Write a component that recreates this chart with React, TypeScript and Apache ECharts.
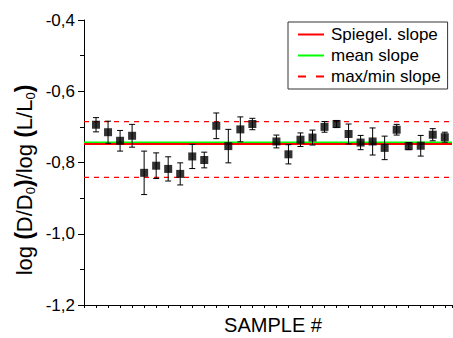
import React, { useEffect, useRef } from "react";
import * as echarts from "echarts";

// Sample numbers (x positions on the axis) and measured values with errors
const sampleX = [1, 2, 3, 4, 5, 6, 7, 8, 9, 10, 11, 12, 13, 14, 16, 17, 18, 19, 20, 21, 22, 23, 24, 25, 26, 27, 28, 29, 30];
const sampleY = [
  -0.694, -0.715, -0.739, -0.725, -0.829, -0.809, -0.818, -0.832, -0.783, -0.793, -0.697, -0.754, -0.707, -0.692,
  -0.741, -0.777, -0.736, -0.730, -0.700, -0.692, -0.720, -0.744, -0.741, -0.759, -0.708, -0.754, -0.753, -0.722, -0.729,
];
const sampleErr = [
  0.020, 0.031, 0.029, 0.032, 0.061, 0.036, 0.034, 0.031, 0.034, 0.022, 0.036, 0.047, 0.035, 0.016,
  0.018, 0.027, 0.019, 0.021, 0.015, 0.010, 0.028, 0.020, 0.038, 0.033, 0.015, 0.010, 0.029, 0.017, 0.014,
];

// Reference slopes
const spiegelSlope = -0.748;
const meanSlope = -0.744;
const maxSlope = -0.685;
const minSlope = -0.842;

// Axis ranges and ticks
const xMin = 0;
const xMax = 30.6;
const yMin = -1.2;
const yMax = -0.4;
const yInterval = 0.2;

const seriesNames = ["Spiegel. slope", "mean slope", "max/min slope"];

const FONT = 'Arial, "Liberation Sans", sans-serif';

export default function App() {
  const ref = useRef<HTMLDivElement>(null);

  useEffect(() => {
    if (!ref.current) return;
    const chart = echarts.init(ref.current, null, { renderer: "svg" });

    const points = sampleX.map((x, i) => [x, sampleY[i]]);
    const errData = sampleX.map((x, i) => [x, sampleY[i], sampleErr[i]]);
    const hline = (v: number) => [[xMin, v], [xMax, v]];

    const option: any = {
      animation: false,
      backgroundColor: "#ffffff",
      grid: { left: 84, right: 1, top: 20, bottom: 33, containLabel: false },
      xAxis: {
        type: "value",
        min: xMin,
        max: xMax,
        interval: 1,
        axisLine: { show: true, onZero: false, lineStyle: { color: "#000", width: 1 } },
        axisTick: { show: true, inside: false, length: 3, lineStyle: { color: "#000" } },
        axisLabel: { show: false },
        splitLine: { show: false },
      },
      yAxis: {
        type: "value",
        min: yMin,
        max: yMax,
        interval: yInterval,
        axisLine: { show: true, onZero: false, lineStyle: { color: "#000", width: 1 } },
        axisTick: { show: true, inside: false, length: 6, lineStyle: { color: "#000" } },
        minorTick: { show: true, splitNumber: 2, length: 4, lineStyle: { color: "#000" } },
        axisLabel: {
          margin: 9,
          color: "#000",
          fontSize: 17,
          fontFamily: FONT,
          formatter: (v: number) => v.toFixed(1).replace(".", ","),
        },
        splitLine: { show: false },
      },
      legend: {
        orient: "vertical",
        left: 288,
        top: 22,
        padding: [4, 7, 4, 9],
        itemGap: 4,
        itemWidth: 26,
        itemHeight: 14,
        borderColor: "#333",
        borderWidth: 1,
        backgroundColor: "#fff",
        itemStyle: { opacity: 0 },
        textStyle: { fontSize: 17, fontFamily: FONT, color: "#000", padding: [0, 0, 0, 2] },
        data: [
          { name: seriesNames[0] },
          { name: seriesNames[1] },
          { name: seriesNames[2], lineStyle: { type: [8, 10], width: 2 } },
        ],
      },
      graphic: [
        {
          type: "text",
          x: 24,
          y: 180,
          rotation: Math.PI / 2,
          style: {
            text: "log {p|(}D/D{sub|0}{p|)}/log {p|(}L/L{sub|0}{p|)}",
            font: `22px ${FONT}`,
            fill: "#000",
            align: "center",
            verticalAlign: "middle",
            lineHeight: 25,
            rich: {
              p: { fontSize: 23, fontWeight: "bold", fontFamily: FONT, fill: "#000", lineHeight: 25 },
              sub: { fontSize: 13, fontFamily: FONT, fill: "#000", lineHeight: 13, verticalAlign: "bottom" },
            },
          },
        },
        {
          type: "text",
          x: 273,
          y: 325,
          style: {
            text: "SAMPLE #",
            font: `20px ${FONT}`,
            fill: "#000",
            align: "center",
            verticalAlign: "middle",
          },
        },
      ],
      series: [
        {
          name: seriesNames[2],
          type: "line",
          data: hline(maxSlope),
          symbol: "none",
          color: "#ff0000",
          lineStyle: { color: "#ff0000", width: 1.3, type: [5, 5] },
          z: 1,
        },
        {
          name: seriesNames[2],
          type: "line",
          data: hline(minSlope),
          symbol: "none",
          color: "#ff0000",
          lineStyle: { color: "#ff0000", width: 1.3, type: [5, 5] },
          z: 1,
        },
        {
          name: seriesNames[1],
          type: "line",
          data: hline(meanSlope),
          symbol: "none",
          color: "#00ff00",
          lineStyle: { color: "#00ff00", width: 2 },
          z: 2,
        },
        {
          name: seriesNames[0],
          type: "line",
          data: hline(spiegelSlope),
          symbol: "none",
          color: "#ff0000",
          lineStyle: { color: "#ff0000", width: 2 },
          z: 3,
        },
        {
          type: "custom",
          data: errData,
          z: 4,
          renderItem: (params: any, api: any) => {
            const x = api.value(0);
            const y = api.value(1);
            const e = api.value(2);
            const top = api.coord([x, y + e]);
            const bot = api.coord([x, y - e]);
            const hw = 3;
            const style = { stroke: "#000", lineWidth: 1 };
            return {
              type: "group",
              children: [
                { type: "line", shape: { x1: top[0], y1: top[1], x2: bot[0], y2: bot[1] }, style },
                { type: "line", shape: { x1: top[0] - hw, y1: top[1], x2: top[0] + hw, y2: top[1] }, style },
                { type: "line", shape: { x1: bot[0] - hw, y1: bot[1], x2: bot[0] + hw, y2: bot[1] }, style },
              ],
            };
          },
        },
        {
          type: "scatter",
          data: points,
          symbol: "rect",
          symbolSize: 8,
          itemStyle: { color: "#000" },
          z: 5,
        },
      ],
    };

    chart.setOption(option);
    return () => chart.dispose();
  }, []);

  return (
    <div
      ref={ref}
      style={{ position: "fixed", left: 0, top: 0, width: 453, height: 338, background: "#fff" }}
    />
  );
}
